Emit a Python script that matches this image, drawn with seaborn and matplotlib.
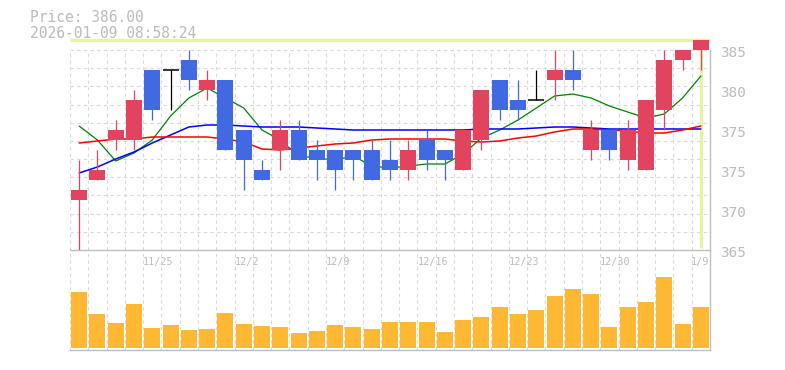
"""Daily candlestick chart (price + moving averages) with volume panel underneath."""

import numpy as np
import pandas as pd
import matplotlib
matplotlib.use("Agg")
import matplotlib.pyplot as plt
import matplotlib.transforms as mtransforms
import seaborn as sns

# --- data ----------------------------------------------------------------
price_now = 386.00
stamp = "2026-01-09 08:58:24"

dates = [
    "11/18", "11/19", "11/20", "11/21", "11/25", "11/26", "11/27", "11/28",
    "12/1", "12/2", "12/3", "12/4", "12/5", "12/8", "12/9", "12/10", "12/11",
    "12/12", "12/15", "12/16", "12/17", "12/18", "12/19", "12/22", "12/23",
    "12/24", "12/25", "12/26", "12/29", "12/30", "1/5", "1/6", "1/7", "1/8", "1/9",
]
opens = [370, 372, 376, 376, 383, 383, 384, 381, 382, 377, 373, 375, 377, 375, 375,
         375, 375, 374, 373, 376, 375, 373, 376, 382, 380, 380, 382, 383, 375, 377,
         374, 373, 379, 384, 385]
highs = [374, 375, 378, 381, 383, 383, 385, 383, 382, 377, 374, 378, 378, 376, 375,
         375, 376, 376, 376, 377, 375, 377, 381, 382, 382, 383, 385, 385, 378, 377,
         378, 380, 385, 385, 386]
lows = [365, 372, 375, 375, 378, 379, 381, 380, 375, 371, 372, 373, 374, 372, 371,
        372, 372, 372, 372, 373, 372, 373, 375, 378, 378, 380, 380, 381, 374, 374,
        373, 373, 377, 383, 383]
closes = [371, 373, 377, 380, 379, 383, 382, 382, 375, 374, 372, 377, 374, 374, 373,
          374, 372, 373, 375, 374, 374, 377, 381, 379, 379, 380, 383, 382, 377, 375,
          377, 380, 384, 385, 386]

ma_short = [377.4, 376.0, 373.9, 374.7, 376.0, 378.4, 380.2, 381.2, 380.2, 379.2,
            377.0, 376.0, 374.4, 374.2, 374.0, 374.4, 373.4, 373.2, 373.4, 373.6,
            373.6, 374.6, 376.2, 377.0, 378.0, 379.2, 380.4, 380.6, 380.2, 379.4,
            378.8, 378.2, 378.6, 380.2, 382.4]
ma_mid = [372.7, 373.3, 374.1, 374.8, 375.7, 376.5, 377.3, 377.5, 377.5, 377.4,
          377.3, 377.3, 377.3, 377.2, 377.1, 377.0, 377.0, 377.0, 377.0, 377.0,
          377.0, 377.0, 377.1, 377.1, 377.1, 377.2, 377.3, 377.3, 377.2, 377.1,
          377.1, 377.1, 377.1, 377.1, 377.1]
ma_long = [375.7, 375.9, 376.1, 376.1, 376.3, 376.3, 376.3, 376.3, 376.1, 375.8,
           375.1, 375.0, 375.2, 375.4, 375.6, 375.7, 376.0, 376.1, 376.1, 376.1,
           376.1, 375.9, 375.8, 375.9, 376.2, 376.4, 376.8, 377.1, 377.1, 377.0,
           376.9, 376.7, 376.7, 377.0, 377.4]

volume = [56, 34, 25, 44, 20, 23, 18, 19, 35, 24, 22, 21, 15, 17, 23, 21, 19, 26,
          26, 26, 16, 28, 31, 41, 34, 38, 52, 59, 54, 21, 41, 46, 71, 24, 41]

xtick_labels = ["11/25", "12/2", "12/9", "12/16", "12/23", "12/30", "1/9"]
ytick_values = [385, 381, 377, 373, 369, 365]
ytick_labels = ["385", "380", "375", "375", "370", "365"]

# --- style ------------------------------------------------------------------
UP = "#e2445f"
DOWN = "#4169e1"
VOL = "#ffb833"
GRID = "#d9d9d9"
AXIS = "#bdbdbd"
TEXT = "#bbbbbb"
CROSS = "#e3f4a6"

sns.set_style("white")
plt.rcParams["font.family"] = ["DejaVu Sans Mono"]

df = pd.DataFrame({
    "i": np.arange(len(dates)), "date": dates, "open": opens, "high": highs,
    "low": lows, "close": closes, "ma5": ma_short, "ma_mid": ma_mid,
    "ma_long": ma_long, "volume": volume,
})
n = len(df)

fig = plt.figure(figsize=(7.85, 3.7), dpi=100)
ax = fig.add_axes([70 / 785, 120 / 370, 640 / 785, 210 / 370])
axv = fig.add_axes([70 / 785, 20 / 370, 640 / 785, 100 / 370])

# grid
edges = np.arange(n) - 0.5
ax.vlines(edges, 365, 385, color=GRID, lw=0.8, ls=(0, (3, 3)), zorder=0)
axv.vlines(edges, -2, 98, color=GRID, lw=0.8, ls=(0, (3, 3)), zorder=0)
ax.hlines(385 - np.arange(11) * 20 / 11, -0.5, n - 0.5, color=GRID, lw=0.8,
          ls=(0, (3, 3)), zorder=0)

# crosshair on the latest bar
ax.hlines(price_now, -0.5, n - 0.5, color=CROSS, lw=2.4, zorder=1, clip_on=False)
ax.vlines(n - 1, 365.2, price_now, color=CROSS, lw=2.4, zorder=1)

# moving averages
sns.lineplot(data=df, x="i", y="ma5", ax=ax, color="#008000", lw=0.9, zorder=2)
sns.lineplot(data=df, x="i", y="ma_mid", ax=ax, color="#0000ff", lw=1.1, zorder=2)
sns.lineplot(data=df, x="i", y="ma_long", ax=ax, color="#ff0000", lw=1.1, zorder=2)

# candles
body_w = 0.88
for r in df.itertuples():
    if r.close > r.open:
        c = UP
    elif r.close < r.open:
        c = DOWN
    else:
        c = "black"
    ax.vlines(r.i, r.low, r.high, color=c, lw=0.9, zorder=3)
    if r.close == r.open:
        ax.hlines(r.close, r.i - body_w / 2, r.i + body_w / 2, color=c, lw=1.1, zorder=3)
    else:
        ax.bar(r.i, r.close - r.open, bottom=r.open, width=body_w, color=c,
               lw=0, zorder=3)

ax.set_xlim(-0.5, n - 0.5)
ax.set_ylim(365, 386)
ax.set_xticks([])
ax.set_yticks([])
ax.set_xlabel("")
ax.set_ylabel("")
for s in ["top", "left"]:
    ax.spines[s].set_visible(False)
ax.spines["right"].set_bounds(365, 385)
for s in ["right", "bottom"]:
    ax.spines[s].set_color(AXIS)
    ax.spines[s].set_linewidth(1.0)

trans = mtransforms.blended_transform_factory(ax.transAxes, ax.transData)
for v, lab in zip(ytick_values, ytick_labels):
    ax.text(1 + 10 / 640, v - 0.33, lab, transform=trans, ha="left", va="center",
            fontsize=10.4, color=TEXT)

# volume
sns.barplot(data=df, x="i", y="volume", ax=axv, color=VOL, saturation=1,
            width=body_w, linewidth=0, errorbar=None, zorder=2)
axv.set_xlim(-0.5, n - 0.5)
axv.set_ylim(-2, 98)
axv.set_xticks([])
axv.set_yticks([])
axv.set_xlabel("")
axv.set_ylabel("")
axv.patch.set_alpha(0)
for s in ["top", "left"]:
    axv.spines[s].set_visible(False)
for s in ["right", "bottom"]:
    axv.spines[s].set_color(AXIS)
    axv.spines[s].set_linewidth(1.0)

for lab in xtick_labels:
    i = dates.index(lab)
    if i == n - 1:
        axv.text(n - 0.55, 86, lab, ha="right", va="center", fontsize=7.3, color=TEXT)
    else:
        axv.text(i - 0.5, 86, lab, ha="left", va="center", fontsize=7.3, color=TEXT)

fig.text(30 / 785, 1 - 17.5 / 370, f"Price: {price_now:.2f}", ha="left", va="center",
         fontsize=10.5, color=TEXT)
fig.text(30 / 785, 1 - 33 / 370, stamp, ha="left", va="center", fontsize=10.5,
         color=TEXT)

fig.savefig("out.png", dpi=100, facecolor="white")
